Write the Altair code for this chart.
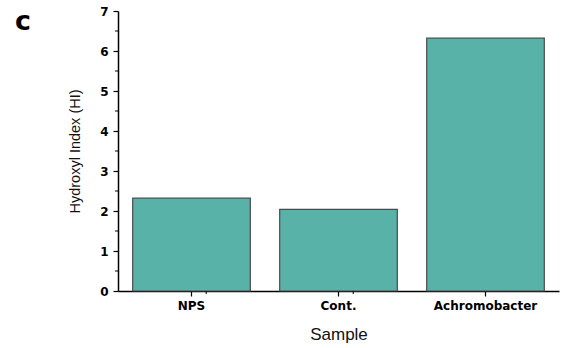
import altair as alt
import pandas as pd

# Hydroxyl index per sample
samples = ["NPS", "Cont.", "Achromobacter"]
hi_values = [2.32, 2.04, 6.32]

# tick positions on the y axis
y_major = [0, 1, 2, 3, 4, 5, 6, 7]
y_minor = [0.5, 1.5, 2.5, 3.5, 4.5, 5.5, 6.5]

df = pd.DataFrame({"Sample": samples, "HI": hi_values})
minor_df = pd.DataFrame({"HI": y_minor})
gap_df = pd.DataFrame({"Sample": samples[:2]})

LABEL_FONT = "DejaVu Sans"
TITLE_FONT = "Liberation Sans"
W, H = 441, 280

x_axis = alt.Axis(
    title="Sample", labelAngle=0, labelFont=LABEL_FONT, labelFontWeight="bold",
    labelFontSize=12, labelColor="black", labelPadding=4,
    titleFont=TITLE_FONT, titleFontSize=17, titleFontWeight="normal",
    titleColor="#111111", titlePadding=15,
    domainColor="black", domainWidth=1.5, tickColor="black",
    tickSize=5, tickWidth=1.2,
)
y_axis = alt.Axis(
    title="Hydroxyl Index (HI)", values=y_major, labelOverlap=False, tickCount=8,
    grid=False, labelFont=LABEL_FONT, labelFontWeight="bold", labelFontSize=12,
    labelColor="black", labelPadding=5,
    titleFont=TITLE_FONT, titleFontSize=14.5, titleFontWeight="normal",
    titleColor="#111111", titlePadding=17,
    domainColor="black", domainWidth=1.5, tickColor="black",
    tickSize=5, tickWidth=1.2,
)
x_scale = alt.Scale(paddingInner=0.2, paddingOuter=0.1)
y_scale = alt.Scale(domain=[0, 7], nice=False)

bars = alt.Chart(df).mark_bar(
    color="#58b2a8", stroke="#4a4a4a", strokeWidth=1.2
).encode(
    x=alt.X("Sample:N", sort=samples, scale=x_scale, axis=x_axis),
    y=alt.Y("HI:Q", scale=y_scale, axis=y_axis),
)

# short minor ticks on the y axis
minor_y = alt.Chart(minor_df).mark_rule(color="black", strokeWidth=1).encode(
    y=alt.Y("HI:Q", scale=y_scale, axis=y_axis),
    x=alt.value(-3),
    x2=alt.value(0),
)

# minor ticks between categories on the x axis
minor_x = alt.Chart(gap_df).mark_rule(color="black", strokeWidth=1).encode(
    x=alt.X("Sample:N", sort=samples, scale=x_scale, axis=x_axis),
    xOffset=alt.value(W / 6),
    y=alt.value(H),
    y2=alt.value(H + 3),
)

panel = alt.Chart(pd.DataFrame({"t": ["c"]})).mark_text(
    font=LABEL_FONT, fontSize=27, fontWeight="bold", align="left", baseline="alphabetic",
    color="black",
).encode(text="t:N", x=alt.value(-103), y=alt.value(19))

chart = (
    alt.layer(bars, minor_y, minor_x, panel)
    .properties(
        width=W, height=H,
        background="white",
        autosize=alt.AutoSizeParams(type="none"),
        padding={"left": 118, "top": 11, "right": 2, "bottom": 57},
    )
    .configure_view(stroke=None, strokeWidth=0)
)

chart.save("out.html", embed_options={"renderer": "svg", "actions": False})
